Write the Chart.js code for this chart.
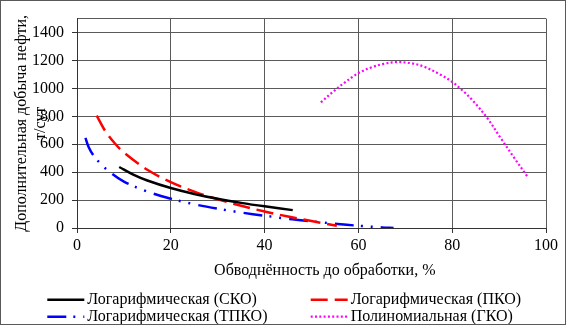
<!DOCTYPE html>
<html><head><meta charset="utf-8">
<script src="https://cdn.jsdelivr.net/npm/chart.js@4/dist/chart.umd.min.js"></script>
<style>
html,body{margin:0;padding:0;background:#fff}
#frame{width:566px;height:325px;box-sizing:border-box;border:1px solid #595959;position:relative;overflow:hidden;background:#fff}
#wrap{position:absolute;left:0;top:0;width:564px;height:323px}
.probe{font:16px "Liberation Serif";position:absolute;left:-2000px;top:0}
</style></head><body>
<span class="probe">Обводнённость 0123456789 Логарифмическая</span>
<div id="frame"><div id="wrap"><canvas id="c"></canvas></div></div>
<script>
// ---- data ----
const seriesNames = ['Логарифмическая (СКО)', 'Логарифмическая (ПКО)', 'Логарифмическая (ТПКО)', 'Полиномиальная (ГКО)'];

const skoX = [9, 12, 15, 20, 25, 30, 35, 40, 46];
const skoY = [437, 382, 340, 286, 244, 209, 180, 155, 128];

const pkoX = [4.2, 6, 8, 10, 15, 20, 25, 30, 35, 40, 45, 50, 55.4];
const pkoY = [805, 696, 609, 541, 417, 329, 261, 206, 159, 118, 82, 50, 16];

const tpkoX = [1.8, 2.5, 3.5, 5, 7, 10, 15, 20, 25, 30, 35, 40, 45, 50, 55, 60, 65, 67.5];
const tpkoY = [646, 578, 520, 462, 400, 332, 261, 210, 170, 138, 111, 88, 66, 48, 31, 16, 4, 0];

const gkoX = [52.0, 54.6, 56.8, 58.9, 60.4, 62.9, 65.4, 68.1, 71.1, 73.9, 77.5, 80.0, 82.5, 84.6, 87.5, 90.3, 93.2, 96.0];
const gkoY = [900, 976, 1035, 1086, 1117, 1152, 1176, 1188, 1181, 1157, 1098, 1046, 976, 905, 787, 646, 504, 370];

const xTicks = [0, 20, 40, 60, 80, 100];
const yTicks = [0, 200, 400, 600, 800, 1000, 1200, 1400];
const yTop = 1500;

const xTitle = 'Обводнённость до обработки, %';
const yTitle = ['Дополнительная добыча нефти,', 'т/сут'];

// ---- chart ----
const FONT = '"Liberation Serif", "Times New Roman", serif';
const FS = 16;
Chart.defaults.font.family = FONT;
Chart.defaults.font.size = FS;
Chart.defaults.color = '#000';

const pts = (xs, ys) => xs.map((x, i) => ({x, y: ys[i]}));

const styles = [
  {borderColor: '#000000', borderWidth: 2.5, borderDash: []},
  {borderColor: '#ff0000', borderWidth: 2.5, borderDash: [17, 7]},
  {borderColor: '#0000ff', borderWidth: 2.5, borderDash: [19, 7, 2, 8, 2, 8]},
  {borderColor: '#ff00ff', borderWidth: 2.2, borderDash: [2, 2.3]}
];
const dataSets = [pts(skoX, skoY), pts(pkoX, pkoY), pts(tpkoX, tpkoY), pts(gkoX, gkoY)];

const legendPlugin = {
  id: 'customLegend',
  afterDraw(chart) {
    const ctx = chart.ctx;
    const ca = chart.chartArea;
    ctx.save();
    ctx.font = FS + 'px ' + FONT;
    ctx.fillStyle = '#000';
    ctx.textAlign = 'center';
    ctx.textBaseline = 'middle';
    ctx.fillText(xTitle, (ca.left + ca.right) / 2 + 13.3, ca.bottom + 43);
    const colX = [46.3, 309.7];
    const rowY = [ca.bottom + 71.7, ca.bottom + 88.7];
    const sampleLen = 37;
    chart.data.datasets.forEach((ds, i) => {
      const cx = colX[i % 2], cy = rowY[Math.floor(i / 2)];
      ctx.beginPath();
      ctx.setLineDash(ds.borderDash || []);
      ctx.lineDashOffset = 0;
      ctx.strokeStyle = ds.borderColor;
      ctx.lineWidth = ds.borderWidth;
      ctx.lineCap = 'butt';
      ctx.moveTo(cx, cy);
      ctx.lineTo(cx + sampleLen, cy);
      ctx.stroke();
      ctx.setLineDash([]);
      ctx.textAlign = 'left';
      ctx.textBaseline = 'middle';
      ctx.fillStyle = '#000';
      ctx.fillText(ds.label, cx + sampleLen + 3, cy + 0.5);
    });
    ctx.restore();
  }
};

function draw() {
  new Chart(document.getElementById('c'), {
    type: 'scatter',
    data: {
      datasets: dataSets.map((d, i) => Object.assign({
        label: seriesNames[i],
        data: d,
        showLine: true,
        pointRadius: 0,
        pointHoverRadius: 0,
        tension: 0.35,
        fill: false
      }, styles[i]))
    },
    options: {
      responsive: true,
      maintainAspectRatio: false,
      animation: false,
      events: [],
      layout: {padding: {left: 0, right: 19, top: 14, bottom: 45}},
      plugins: {legend: {display: false}, tooltip: {enabled: false}},
      scales: {
        x: {
          type: 'linear', min: 0, max: 100,
          afterBuildTicks: s => { s.ticks = xTicks.map(v => ({value: v})); },
          afterFit: s => { s.height = 51; },
          ticks: {padding: 3, color: '#000', font: {size: FS}, maxRotation: 0},
          grid: {color: '#5a5a5a', lineWidth: 1, tickLength: 5, tickColor: '#333'},
          border: {color: '#333', width: 1},
          title: {display: false}
        },
        y: {
          type: 'linear', min: 0, max: yTop,
          afterBuildTicks: s => { s.ticks = yTicks.concat([yTop]).map(v => ({value: v})); },
          afterFit: s => { s.width = 76; },
          ticks: {
            padding: 8, color: '#000', font: {size: FS},
            callback: v => yTicks.includes(v) ? String(v) : ''
          },
          grid: {
            color: '#5a5a5a', lineWidth: 1, tickLength: 5,
            tickColor: c => (c.tick && c.tick.value === yTop) ? 'rgba(0,0,0,0)' : '#333'
          },
          border: {color: '#333', width: 1},
          title: {display: true, text: yTitle, font: {size: FS}, color: '#000', padding: {top: 11.4, bottom: 0}}
        }
      }
    },
    plugins: [legendPlugin]
  });
}

if (document.fonts && document.fonts.load) {
  document.fonts.load(FS + 'px "Liberation Serif"', 'Обвод0123').then(draw, draw);
} else {
  draw();
}
</script>
</body></html>
